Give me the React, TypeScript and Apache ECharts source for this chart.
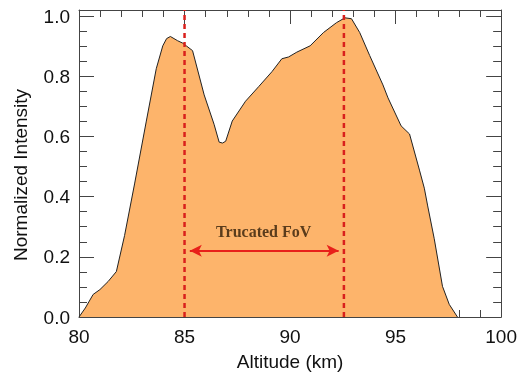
import React, { useEffect, useRef } from "react";
import * as echarts from "echarts";

const altitude = [80.0, 80.3, 80.67, 80.99, 81.38, 81.77, 82.16, 82.64, 83.19, 83.66, 83.97, 84.15, 84.33, 84.5, 84.67, 84.91, 85.1, 85.38, 85.93, 86.4, 86.64, 86.8, 86.95, 87.26, 87.89, 88.52, 89.14, 89.61, 89.93, 90.32, 90.95, 91.58, 92.2, 92.6, 92.91, 93.3, 93.77, 94.4, 94.64, 95.26, 95.66, 96.13, 96.36, 96.52, 96.83, 97.22, 97.54, 97.93];
const intensity = [0.0, 0.03, 0.075, 0.091, 0.118, 0.151, 0.271, 0.445, 0.651, 0.825, 0.901, 0.925, 0.932, 0.925, 0.918, 0.91, 0.9, 0.885, 0.738, 0.64, 0.581, 0.578, 0.584, 0.651, 0.717, 0.766, 0.815, 0.858, 0.864, 0.88, 0.901, 0.945, 0.978, 0.994, 0.991, 0.945, 0.869, 0.771, 0.728, 0.635, 0.608, 0.488, 0.428, 0.369, 0.26, 0.102, 0.042, 0.0];
const fovBounds = [85.0, 92.55];
const arrowSpan = [85.25, 92.3];
const arrowLevel = 0.22;
const fovLabel = "Trucated FoV";
const fovLabelPos = [88.75, 0.285];
const xRange = [80, 100];
const yRange = [0, 1.02];

export default function App() {
  const ref = useRef<HTMLDivElement>(null);
  useEffect(() => {
    if (!ref.current) return;
    const chart = echarts.init(ref.current, null, { renderer: "svg" });
    const tickColor = "#444";
    const axisFont = "'Liberation Sans', Arial, Helvetica, sans-serif";
    const baseX = {
      type: "value",
      min: xRange[0],
      max: xRange[1],
      interval: 5,
      axisLine: { show: true, onZero: false, lineStyle: { color: tickColor, width: 1 } },
      axisTick: { show: true, inside: true, length: 14, lineStyle: { color: tickColor } },
      minorTick: { show: true, splitNumber: 5, length: 7, lineStyle: { color: tickColor } },
      splitLine: { show: false },
    };
    const baseY = {
      type: "value",
      min: yRange[0],
      max: yRange[1],
      interval: 0.2,
      axisLine: { show: true, onZero: false, lineStyle: { color: tickColor, width: 1 } },
      axisTick: { show: true, inside: true, length: 15, lineStyle: { color: tickColor } },
      minorTick: { show: true, splitNumber: 4, length: 8, lineStyle: { color: tickColor } },
      splitLine: { show: false },
    };
    const curve = altitude.map((x, i) => [x, intensity[i]]);
    chart.setOption({
      animation: false,
      grid: { left: 79, right: 16, top: 10, bottom: 53 },
      xAxis: [
        {
          ...baseX,
          position: "bottom",
          name: "Altitude (km)",
          nameLocation: "middle",
          nameGap: 35,
          nameTextStyle: { fontFamily: axisFont, fontSize: 19, color: "#111" },
          axisLabel: { fontFamily: axisFont, fontSize: 19, color: "#111", margin: 10 },
        },
        { ...baseX, position: "top", axisLabel: { show: false } },
      ],
      yAxis: [
        {
          ...baseY,
          position: "left",
          axisLabel: {
            fontFamily: axisFont,
            fontSize: 19,
            color: "#111",
            margin: 9,
            formatter: (v: number) => (Math.abs(v / 0.2 - Math.round(v / 0.2)) < 1e-6 ? v.toFixed(1) : ""),
          },
        },
        { ...baseY, position: "right", axisLabel: { show: false } },
      ],
      graphic: [
        {
          type: "text",
          x: 20,
          y: 175,
          rotation: Math.PI / 2,
          style: {
            text: "Normalized Intensity",
            fontFamily: axisFont,
            fontSize: 19,
            fill: "#111",
            align: "center",
            verticalAlign: "middle",
          },
        },
      ],
      series: [
        {
          type: "line",
          data: curve,
          showSymbol: false,
          symbol: "none",
          lineStyle: { color: "#222", width: 1 },
          areaStyle: { color: "#FDB46B", opacity: 1 },
          z: 2,
          markLine: {
            silent: true,
            symbol: ["arrow", "arrow"],
            symbolSize: [9, 12],
            lineStyle: { color: "#e8201a", width: 2, type: "solid" },
            label: { show: false },
            data: [
              [
                { coord: [arrowSpan[0], arrowLevel] },
                { coord: [arrowSpan[1], arrowLevel] },
              ],
            ],
          },
          markPoint: {
            silent: true,
            symbol: "circle",
            symbolSize: 0,
            label: {
              show: true,
              position: "inside",
              formatter: fovLabel,
              fontFamily: "'Liberation Serif', 'Times New Roman', serif",
              fontWeight: "bold",
              fontSize: 16,
              color: "#5a3c1c",
            },
            data: [{ coord: fovLabelPos }],
          },
        },
        ...fovBounds.map((b) => ({
          type: "line",
          data: [
            [b, yRange[0]],
            [b, yRange[1]],
          ],
          showSymbol: false,
          symbol: "none",
          lineStyle: { color: "#d9201c", width: 2.5, type: [5, 4] },
          z: 3,
        })),
      ],
    });
    return () => chart.dispose();
  }, []);
  return <div ref={ref} style={{ position: "fixed", left: 0, top: 0, width: 520, height: 376 }} />;
}
